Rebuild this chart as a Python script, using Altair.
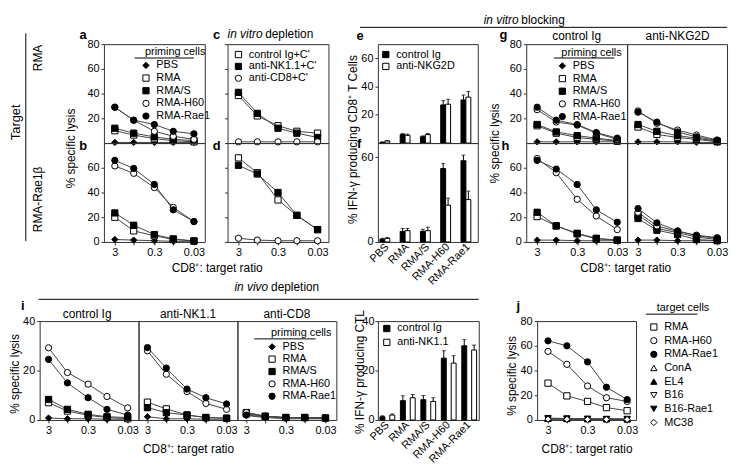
import altair as alt
import pandas as pd

FONT = "Liberation Sans"
LINE = "#444444"
FRAME = "#333333"

# ---------------- data ----------------
ratios = [3, 1, 0.3, 0.1, 0.03]

priming = ["PBS", "RMA", "RMA/S", "RMA-H60", "RMA-Rae1"]
priming_shapes = ["diamond", "square", "square", "circle", "circle"]
priming_fills = ["black", "white", "black", "white", "black"]

# a: target RMA
a_lysis = {"PBS": [0.5, 0.5, 0.5, 0.5, 0.5], "RMA": [10, 6.5, 3.5, 2, 1],
           "RMA/S": [12, 8, 5, 3, 2], "RMA-H60": [29, 18.5, 9.5, 5.5, 3],
           "RMA-Rae1": [29, 18.5, 15, 9.5, 7.5]}
# b: target RMA-Rae1b
b_lysis = {"PBS": [2, 1.5, 1, 0.5, 0.5], "RMA": [20, 9, 5, 2, 0.8],
           "RMA/S": [23.5, 13.5, 6, 2.5, 0.8], "RMA-H60": [61.5, 55.5, 44, 28, 16.5],
           "RMA-Rae1": [66, 59.5, 46.5, 26, 16.5]}

depletion = ["control Ig+C'", "anti-NK1.1+C'", "anti-CD8+C'"]
depletion_shapes = ["square", "square", "circle"]
depletion_fills = ["white", "black", "white"]
c_lysis = {"control Ig+C'": [38.5, 22, 14, 9.5, 8], "anti-NK1.1+C'": [41, 24, 12, 8, 4.5],
           "anti-CD8+C'": [1, 1, 1, 1, 1]}
d_lysis = {"control Ig+C'": [68, 56, 34, 21.5, 10], "anti-NK1.1+C'": [62, 55, 40, 21.5, 10],
           "anti-CD8+C'": [3, 1.5, 1, 1, 1]}

cats = ["PBS", "RMA", "RMA/S", "RMA-H60", "RMA-Rae1"]
ef_groups = ["control Ig", "anti-NKG2D"]
e_ctrl = [0.5, 6, 4.5, 27, 30.5]
e_ctrl_err = [0.3, 0.8, 0.6, 3, 3.5]
e_anti = [1.5, 5.5, 6, 27.5, 32.5]
e_anti_err = [0.3, 0.8, 0.8, 3.5, 4]
f_ctrl = [2, 7.5, 7.5, 52, 57.5]
f_ctrl_err = [0.6, 2, 1.5, 3.5, 4]
f_anti = [2.5, 8, 8, 26, 30]
f_anti_err = [0.7, 1.5, 2.5, 5, 6]

g_ctrl = {"PBS": [1, 1, 1, 1, 1], "RMA": [14, 8, 4.5, 3, 1.5], "RMA/S": [15, 9, 6, 4, 2],
          "RMA-H60": [27, 17, 14.5, 8, 3], "RMA-Rae1": [29, 18.5, 15, 8.5, 4]}
g_nkg2d = {"PBS": [1, 1, 1, 0.5, 0.5], "RMA": [13, 7, 4.5, 3, 1], "RMA/S": [15, 9.5, 6, 4, 1.5],
           "RMA-H60": [26, 16, 10.5, 6.5, 2.5], "RMA-Rae1": [25, 17, 9, 5, 2]}
h_ctrl = {"PBS": [1.5, 1.5, 1, 1, 1], "RMA": [20.5, 13, 6.5, 2.5, 1.5], "RMA/S": [24, 13, 7, 3, 1.5],
          "RMA-H60": [67.5, 56, 34.5, 21, 10], "RMA-Rae1": [66, 59, 46.5, 26, 16]}
h_nkg2d = {"PBS": [1.5, 1.5, 1, 1, 1], "RMA": [22, 11, 7.5, 4, 2], "RMA/S": [19, 9.5, 6, 2, 1],
           "RMA-H60": [24, 13, 8.5, 5.5, 3.5], "RMA-Rae1": [27, 15.5, 9, 5, 3]}

i_ctrl = {"PBS": [0.8, 0.5, 0.5, 0.3, 0.3], "RMA": [7, 3.6, 1.9, 1, 0.5], "RMA/S": [8.3, 4.3, 2.3, 1.3, 1],
          "RMA-H60": [29.2, 19.2, 14.5, 9.5, 4.9], "RMA-Rae1": [24.5, 15, 9, 4.3, 2]}
i_nk = {"PBS": [1.3, 0.5, 0.5, 0.3, 0.3], "RMA": [7.2, 4.5, 2, 1, 0.7], "RMA/S": [5, 3, 2, 1, 0.7],
        "RMA-H60": [28, 18.5, 11.5, 6.7, 4.3], "RMA-Rae1": [29.3, 21, 12.5, 9, 6.5]}
i_cd8 = {"PBS": [1.8, 1, 0.5, 0.5, 0.5], "RMA": [3, 1.5, 1, 1, 0.8], "RMA/S": [2.5, 1.5, 1, 1, 0.8],
         "RMA-H60": [3, 1.5, 0.8, 0.8, 0.5], "RMA-Rae1": [2, 1.3, 1, 1, 0.8]}

ib_groups = ["control Ig", "anti-NK1.1"]
ib_ctrl = [1.3, 7.8, 8.2, 25, 30]
ib_ctrl_err = [0.4, 2, 1.7, 3, 2.5]
ib_anti = [2, 9, 7.5, 23, 28.3]
ib_anti_err = [0.4, 1.3, 1.5, 3, 2]

targets = ["RMA", "RMA-H60", "RMA-Rae1", "ConA", "EL4", "B16", "B16-Rae1", "MC38"]
target_shapes = ["square", "circle", "circle", "triangle-up", "triangle-up",
                 "triangle-down", "triangle-down", "diamond"]
target_fills = ["white", "white", "black", "white", "black", "white", "black", "white"]
j_lysis = {"RMA": [29.8, 19.5, 15, 10, 7.5], "RMA-H60": [55.5, 45, 27.5, 18, 15],
           "RMA-Rae1": [64, 60, 47, 26.5, 16.5], "ConA": [1, 0.8, 0.8, 0.6, 0.6],
           "EL4": [1.2, 1, 0.8, 0.8, 0.6], "B16": [0.8, 0.8, 0.6, 0.6, 0.5],
           "B16-Rae1": [1.5, 1.2, 1, 0.8, 0.8], "MC38": [0.6, 0.6, 0.5, 0.5, 0.4]}

XTITLE = "CD8\u207a: target ratio"

# ---------------- helpers ----------------
one = pd.DataFrame({"t": [0]})


def long_df(series, order):
    rows = []
    for s in order:
        for r, v in zip(ratios, series[s]):
            rows.append({"series": s, "ratio": r, "lysis": v})
    return pd.DataFrame(rows)


def txt(s, x, y, size=12, weight="normal", style="normal", angle=0, align="left"):
    return alt.Chart(pd.DataFrame({"t": [s]})).mark_text(
        font=FONT, fontSize=size, fontWeight=weight, fontStyle=style, angle=angle,
        align=align, baseline="middle", color="black"
    ).encode(text="t:N", x=alt.value(x), y=alt.value(y))


def hline(x1, x2, y, w=1):
    return alt.Chart(one).mark_rule(color="black", strokeWidth=w).encode(
        x=alt.value(x1), x2=alt.value(x2), y=alt.value(y))


def vline(x, y1, y2, w=1):
    return alt.Chart(one).mark_rule(color="black", strokeWidth=w).encode(
        x=alt.value(x), y=alt.value(y1), y2=alt.value(y2))


def marker(y):
    return alt.Chart(one).mark_point(opacity=0, size=0).encode(x=alt.value(0), y=alt.value(y))


def spacer(w, h=1, ys=()):
    if ys:
        return alt.layer(*[marker(v) for v in ys]).properties(width=w, height=h)
    return marker(0).properties(width=w, height=h)


def xscale(W, L, R):
    ppd = (W - L - R) / 2.0
    hi = 3 * 10 ** (L / ppd)
    lo = 0.03 / 10 ** (R / ppd)
    return alt.Scale(type="log", domain=[lo, hi], reverse=True, nice=False)


def x_top():
    return alt.Axis(values=ratios, labels=False, ticks=False, title=None)


def x_bottom(title=None, tx=0, ty=0):
    kw = dict(values=ratios, format="~g",
              labelExpr="(datum.value == 1 || datum.value == 0.1) ? '' : datum.label")
    if title:
        kw.update(title=title, titleX=tx, titleY=ty, titleAlign="center", titleBaseline="middle")
    else:
        kw.update(title=None)
    return alt.Axis(**kw)


def y_axis(values, labels=True, ticks=True, title=None, tx=0, ty=0, **extra):
    kw = dict(values=values, labels=labels, ticks=ticks, **extra)
    if title:
        kw.update(title=title, titleX=tx, titleY=ty, titleAlign="center",
                  titleBaseline="middle", titleAngle=270)
    else:
        kw.update(title=None)
    return alt.Axis(**kw)


def leg(title, x, y, rowpad=1.0, titlepad=3):
    kw = dict(orient="none", legendX=x, legendY=y, padding=0,
              labelFont=FONT, labelFontSize=11, labelColor="black",
              symbolSize=40, symbolStrokeColor="black", symbolStrokeWidth=1,
              rowPadding=rowpad, labelOffset=5)
    if title:
        kw.update(title=title, titleFont=FONT, titleFontSize=11, titleFontWeight="normal",
                  titleColor="black", titleAnchor="middle", titlePadding=titlepad)
    else:
        kw.update(title=None)
    return alt.Legend(**kw)


VIEW = alt.ViewBackground(stroke=FRAME, strokeWidth=1)


def lysis_panel(series, order, shapes, fills, W, H, L, R, ydom, xaxis, yaxis, legend, extras=()):
    df = long_df(series, order)
    base = alt.Chart(df)
    x = alt.X("ratio:Q", scale=xscale(W, L, R), axis=xaxis)
    y = alt.Y("lysis:Q", scale=alt.Scale(domain=ydom, nice=False), axis=yaxis)
    line = base.mark_line(color=LINE, strokeWidth=1).encode(x=x, y=y, detail="series:N")
    pts = base.mark_point(filled=True, strokeWidth=1, size=40, opacity=1).encode(
        x=x, y=y,
        shape=alt.Shape("series:N", scale=alt.Scale(domain=order, range=shapes), legend=legend),
        fill=alt.Fill("series:N", scale=alt.Scale(domain=order, range=fills), legend=legend),
        stroke=alt.Stroke("series:N", scale=alt.Scale(domain=order, range=["black"] * len(order)),
                          legend=legend),
    )
    return alt.layer(line, pts, *extras).properties(width=W, height=H, view=VIEW)


def bar_panel(ctrl, ctrl_err, anti, anti_err, groups, W, H, ydom, xaxis, yaxis, legend, extras=()):
    df = pd.DataFrame({"cat": cats * 2, "grp": [groups[0]] * 5 + [groups[1]] * 5,
                       "val": ctrl + anti, "err": ctrl_err + anti_err})
    base = alt.Chart(df).transform_calculate(top="datum.val + datum.err")
    x = alt.X("cat:N", sort=cats, scale=alt.Scale(paddingInner=0.27, paddingOuter=0.1), axis=xaxis)
    xo = alt.XOffset("grp:N", sort=groups, scale=alt.Scale(paddingInner=0, paddingOuter=0))
    y = alt.Y("val:Q", scale=alt.Scale(domain=ydom, nice=False), axis=yaxis)
    eb = base.mark_rule(color="black", strokeWidth=1).encode(x=x, xOffset=xo, y="val:Q", y2="top:Q")
    cap = base.mark_tick(color="black", thickness=1, size=4, orient="horizontal").encode(
        x=x, xOffset=xo, y="top:Q")
    bars = base.mark_bar(strokeWidth=1).encode(
        x=x, xOffset=xo, y=y,
        fill=alt.Fill("grp:N", scale=alt.Scale(domain=groups, range=["black", "white"]), legend=legend),
        stroke=alt.Stroke("grp:N", scale=alt.Scale(domain=groups, range=["black", "black"]),
                          legend=legend))
    return alt.layer(bars, eb, cap, *extras).properties(width=W, height=H, view=VIEW)


def letter(s, x, y):
    return txt(s, x, y, size=13, weight="bold", align="center")


BAR_X = alt.Axis(labelAngle=-45, labelAlign="right", labelBaseline="middle", ticks=False,
                 labelPadding=3, title=None)

# ---------------- panels ----------------
a = lysis_panel(a_lysis, priming, priming_shapes, priming_fills, 102, 100, 11, 11, [0, 80],
                x_top(), y_axis([20, 40, 60, 80], title="% specific lysis", tx=-34, ty=105),
                leg("priming cells", 37, 2, rowpad=0.8),
                [letter("a", -21, -9), hline(31, 91, 14),
                 txt("Target", -89, 79, size=13, angle=270, align="center"),
                 vline(-79, -11, 199),
                 txt("RMA", -67, 14, size=12, angle=270, align="center")])
b = lysis_panel(b_lysis, priming, priming_shapes, priming_fills, 102, 100, 11, 11, [0, 80],
                x_bottom(XTITLE, 114, 26), y_axis([0, 20, 40, 60]), None,
                [letter("b", -21, 3),
                 txt("RMA-Rae1\u03b2", -67, 57, size=12, angle=270, align="center"),
                 txt("in vivo", 132, 146, style="italic"), txt("depletion", 169, 146)])
c = lysis_panel(c_lysis, depletion, depletion_shapes, depletion_fills, 102, 100, 11, 11, [0, 80],
                x_top(), y_axis([0, 20, 40, 60, 80], labels=False), leg(None, 5.5, 5, rowpad=0),
                [letter("c", -11, -9),
                 txt("in vitro", 0, -10, style="italic"), txt("depletion", 38, -10)])
d = lysis_panel(d_lysis, depletion, depletion_shapes, depletion_fills, 102, 100, 11, 11, [0, 80],
                x_bottom(), y_axis([0, 20, 40, 60, 80], labels=False), None,
                [letter("d", -11, 3)])

e = bar_panel(e_ctrl, e_ctrl_err, e_anti, e_anti_err, ef_groups, 101, 100, [0, 70],
              alt.Axis(labels=False, ticks=False, title=None),
              y_axis([20, 40, 60], title="% IFN-\u03b3 producing CD8\u207a T Cells", tx=-26, ty=96),
              leg(None, 2.5, 5, rowpad=0),
              [letter("e", -18, -8),
               txt("in vitro", 107, -24, style="italic"), txt("blocking", 145, -24),
               hline(-18, 353, -17)])
f = bar_panel(f_ctrl, f_ctrl_err, f_anti, f_anti_err, ef_groups, 101, 100, [0, 70],
              BAR_X, y_axis([0, 20, 40, 60]), None, [letter("f", -19, 1)])

g1 = lysis_panel(g_ctrl, priming, priming_shapes, priming_fills, 102, 100, 11, 10, [0, 80],
                 x_top(), y_axis([20, 40, 60, 80], title="% specific lysis", tx=-32, ty=100),
                 leg("priming cells", 31, 2.5, rowpad=0.8),
                 [letter("g", -23, -9), hline(28, 89, 14), txt("control Ig", 51, -8, align="center")])
g2 = lysis_panel(g_nkg2d, priming, priming_shapes, priming_fills, 101, 100, 11, 10, [0, 80],
                 x_top(), y_axis([0, 20, 40, 60, 80], labels=False, ticks=False), None,
                 [txt("anti-NKG2D", 51, -8, align="center")])
h1 = lysis_panel(h_ctrl, priming, priming_shapes, priming_fills, 102, 100, 11, 10, [0, 80],
                 x_bottom(XTITLE, 100, 26), y_axis([0, 20, 40, 60]), None,
                 [letter("h", -21, 3)])
h2 = lysis_panel(h_nkg2d, priming, priming_shapes, priming_fills, 101, 100, 11, 10, [0, 80],
                 x_bottom(), y_axis([0, 20, 40, 60, 80], labels=False, ticks=False), None)

i1 = lysis_panel(i_ctrl, priming, priming_shapes, priming_fills, 100, 100, 9, 11, [0, 40],
                 x_bottom(XTITLE, 150, 29),
                 y_axis([0, 20, 40], title="% specific lysis", tx=-25, ty=53), None,
                 [letter("i", -17, -15.5), txt("control Ig", 48, -7, align="center"),
                  hline(-1, 444, -22)])
i2 = lysis_panel(i_nk, priming, priming_shapes, priming_fills, 100, 100, 9, 11, [0, 40],
                 x_bottom(), y_axis([0, 20, 40], labels=False, ticks=False), None,
                 [txt("anti-NK1.1", 50, -7, align="center")])
i3 = lysis_panel(i_cd8, priming, priming_shapes, priming_fills, 100, 100, 9, 11, [0, 40],
                 x_bottom(), y_axis([0, 20, 40], labels=False, ticks=False),
                 leg("priming cells", 29.5, 6.5, rowpad=0.5),
                 [txt("anti-CD8", 50, -7, align="center"), hline(17, 79, 18)])

ib = bar_panel(ib_ctrl, ib_ctrl_err, ib_anti, ib_anti_err, ib_groups, 102, 100, [0, 40],
               BAR_X, y_axis([0, 10, 20, 30, 40], title="% IFN-\u03b3 producing CTL", tx=-19, ty=51,
                             labelPadding=1),
               leg(None, 3.5, 2, rowpad=2))

j = lysis_panel(j_lysis, targets, target_shapes, target_fills, 100, 100, 11, 9, [0, 80],
                x_bottom(XTITLE, 50, 29),
                y_axis([0, 20, 40, 60, 80], title="% specific lysis", tx=-26, ty=55),
                leg("target cells", 112.5, -19.5, rowpad=1.8, titlepad=9),
                [letter("j", -19, -15.5), hline(110, 162, -7)])

# ---------------- layout ----------------
RES_S = dict(x="independent", y="independent", shape="independent", fill="independent",
             stroke="independent")
RES_L = dict(shape="independent", fill="independent", stroke="independent")

top_items = [spacer(96, 1, ys=(-33, 255)), a, spacer(23), c, spacer(50), e, spacer(49), g1, g2,
             spacer(96), b, spacer(23), d, spacer(50), f, spacer(49), h1, h2]
top = alt.concat(*top_items, columns=9, spacing=0, bounds="flush", align="each"
                 ).resolve_scale(**RES_S).resolve_legend(**RES_L)

bottom = alt.hconcat(spacer(31, 1, ys=(-23, 146)), i1, i2, i3, spacer(42), ib, spacer(59), j,
                     spacing=0, bounds="flush").resolve_scale(**RES_S).resolve_legend(**RES_L)

chart = alt.vconcat(top, bottom, spacing=0).resolve_scale(**RES_S).resolve_legend(**RES_L).properties(
    padding=0
).configure_view(
    stroke="transparent"
).configure_axis(
    labelFont=FONT, labelFontSize=11, labelColor="black",
    titleFont=FONT, titleFontSize=12, titleFontWeight="normal", titleColor="black",
    tickColor=FRAME, tickSize=3, labelPadding=2, domain=False, grid=False,
    labelFlush=False, labelOverlap=False,
).configure_text(font=FONT)

chart.save("out.html", embed_options={"renderer": "svg", "actions": False})
